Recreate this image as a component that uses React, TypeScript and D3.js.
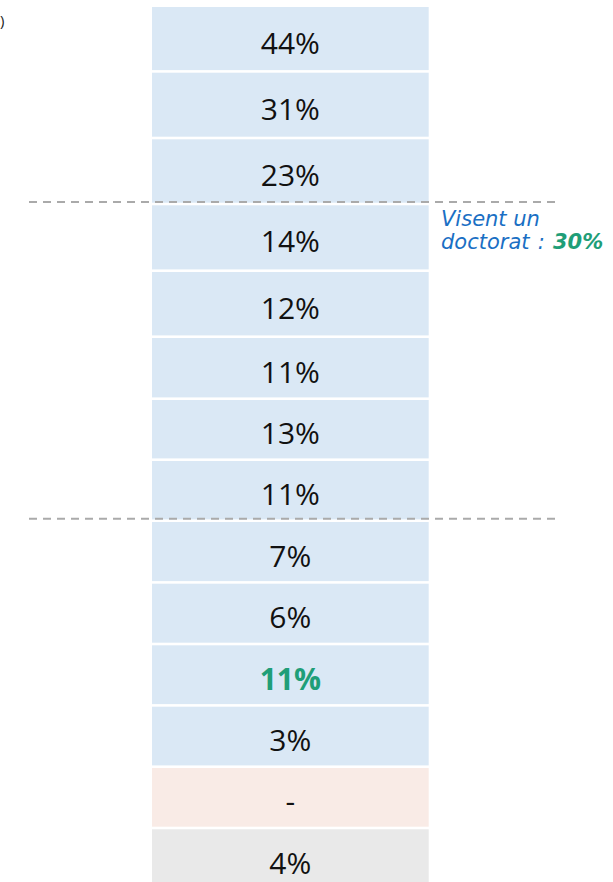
import React from 'react';
import * as d3 from 'd3';

// one column of a bigger table: share per row
const values = [44, 31, 23, 14, 12, 11, 13, 11, 7, 6, 11, 3, null, 4];
const rowKinds = ['n', 'n', 'n', 'n', 'n', 'n', 'n', 'n', 'n', 'n', 'highlight', 'n', 'missing', 'total'];
// row pitch in px (the source table has taller rows at the top)
const rowPitch = [65.7, 66.6, 66, 66.7, 66, 62, 61, 61, 61.7, 61.6, 61.4, 61.3, 61.3, 61.3];
const groupBreaks = [2, 7]; // dashed line after these rows
const noteLines = ['Visent un', 'doctorat : '];
const noteValue = '30%';

const W = 613;
const H = 882;
const top0 = 7;
const gap = 2.6;

const fills: Record<string, string> = {
  n: '#dae8f5',
  highlight: '#dae8f5',
  missing: '#f9ebe6',
  total: '#e9e9e9',
};

export default function App() {
  const tops = [top0, ...Array.from(d3.cumsum(rowPitch)).map((c) => top0 + c)];
  const x = d3.scaleBand<number>().domain([0]).range([152, 428.7]);
  const fmt = (v: number | null) => (v == null ? '-' : d3.format('d')(v) + '%');

  return (
    <svg width={W} height={H} style={{ position: 'absolute', left: 0, top: 0 }}>
      <text x={0} y={26} fontFamily="Open Sans" fontSize={15} fill="#222">)</text>
      {values.map((v, i) => {
        const y0 = tops[i];
        const h = tops[i + 1] - y0 - gap;
        const k = rowKinds[i];
        return (
          <g key={i}>
            <rect x={x(0)} y={y0} width={x.bandwidth()} height={h} fill={fills[k]} />
            <text
              x={x(0)! + x.bandwidth() / 2}
              y={y0 + h / 2 + 15}
              textAnchor="middle"
              fontFamily="Open Sans"
              fontSize={30}
              fontWeight={k === 'highlight' ? 700 : 400}
              fill={k === 'highlight' ? '#1f9e78' : '#111'}
            >
              {fmt(v)}
            </text>
          </g>
        );
      })}
      {groupBreaks.map((b) => (
        <line
          key={b}
          x1={29}
          x2={558}
          y1={tops[b + 1] - 3.3}
          y2={tops[b + 1] - 3.3}
          stroke="#aaa"
          strokeWidth={2}
          strokeDasharray="8,6"
        />
      ))}
      <text x={441} y={226} fontFamily="DejaVu Sans" fontStyle="italic" fontSize={21} fill="#1a6fc4">
        {noteLines[0]}
      </text>
      <text x={441} y={248.5} fontFamily="DejaVu Sans" fontStyle="italic" fontSize={21} fill="#1a6fc4" wordSpacing={1.5}>
        {noteLines[1]}
        <tspan fontWeight={700} fill="#1f9e78">{noteValue}</tspan>
      </text>
    </svg>
  );
}
